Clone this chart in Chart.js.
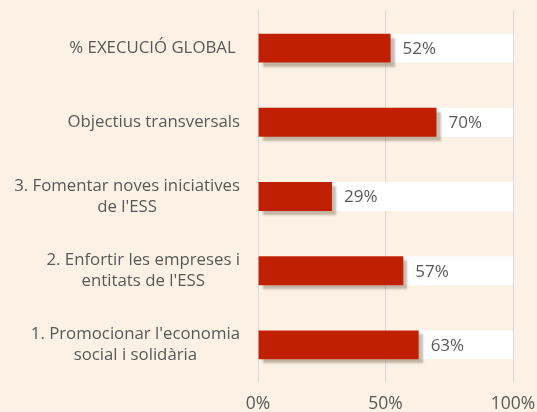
<!DOCTYPE html>
<html lang="ca">
<head>
<meta charset="UTF-8">
<title>Execució</title>
<script src="https://cdn.jsdelivr.net/npm/chart.js"></script>
<style>
  html, body { margin: 0; padding: 0; background: #FBF1E4; overflow: hidden; }
  #wrap { width: 537px; height: 430px; }
</style>
</head>
<body>
<div id="wrap"><canvas id="Chart"></canvas></div>
<script>
const categories = [
  '% EXECUCIÓ GLOBAL ',
  'Objectius transversals',
  ['3. Fomentar noves iniciatives', "de l'ESS"],
  ['2. Enfortir les empreses i', "entitats de l'ESS"],
  ["1. Promocionar l'economia", 'social i solidària']
];
const values = [52, 70, 29, 57, 63];
const fullValues = [100, 100, 100, 100, 100];
const xTicks = [0, 50, 100];

const FONT = '"Open Sans", sans-serif';
const TEXT = '#595959';

// shadow under the red bars
const shadowPlugin = {
  id: 'shadow',
  beforeDatasetDraw(chart, args) {
    if (args.index !== 0) return;
    const ctx = chart.ctx;
    ctx.save();
    ctx.shadowColor = 'rgba(90,70,50,0.35)';
    ctx.shadowOffsetX = 4;
    ctx.shadowOffsetY = 4;
    ctx.shadowBlur = 2;
  },
  afterDatasetDraw(chart, args) {
    if (args.index !== 0) return;
    chart.ctx.restore();
  }
};

// category labels (centred lines, right-aligned block) and value labels
const labelPlugin = {
  id: 'labels',
  afterDraw(chart) {
    const ctx = chart.ctx;
    const y = chart.scales.y;
    const x = chart.scales.x;
    ctx.save();
    ctx.font = '16.8px ' + FONT;
    ctx.fillStyle = TEXT;
    ctx.textBaseline = 'middle';
    ctx.textAlign = 'center';
    const right = 240;
    const lh = 21;
    categories.forEach((lab, i) => {
      const lines = Array.isArray(lab) ? lab : [lab];
      const w = Math.max(...lines.map(l => ctx.measureText(l).width));
      const cx = right - w / 2;
      const cy = y.getPixelForValue(i);
      const y0 = cy - (lines.length - 1) * lh / 2;
      lines.forEach((l, k) => ctx.fillText(l, cx, y0 + k * lh));
    });
    ctx.font = '17px ' + FONT;
    ctx.textAlign = 'left';
    values.forEach((v, i) => {
      ctx.fillText(v + '%', x.getPixelForValue(v) + 12, y.getPixelForValue(i) + 1);
    });
    ctx.restore();
  }
};

new Chart(document.getElementById('Chart'), {
  type: 'bar',
  data: {
    labels: categories,
    datasets: [
      { data: values, backgroundColor: '#C01F00', barPercentage: 0.39, categoryPercentage: 1, grouped: false },
      { data: fullValues, backgroundColor: '#FFFFFF', barPercentage: 0.39, categoryPercentage: 1, grouped: false }
    ]
  },
  options: {
    indexAxis: 'y',
    responsive: true,
    maintainAspectRatio: false,
    animation: false,
    layout: { padding: { top: 11, right: 24, left: 0, bottom: 0 } },
    plugins: { legend: { display: false }, tooltip: { enabled: false } },
    scales: {
      x: {
        min: 0, max: 100,
        afterBuildTicks: s => { s.ticks = xTicks.map(v => ({ value: v })); },
        afterFit: s => { s.height = 48; s.paddingLeft = 0; s.paddingRight = 0; },
        grid: { color: '#D9D9D9', drawTicks: false },
        border: { display: false },
        ticks: { padding: 12, color: TEXT, font: { family: FONT, size: 17.5 }, callback: v => v + '%', maxRotation: 0 }
      },
      y: {
        afterFit: s => { s.width = 258; },
        grid: { display: false },
        border: { display: false },
        ticks: { display: false }
      }
    }
  },
  plugins: [shadowPlugin, labelPlugin]
});
</script>
</body>
</html>
